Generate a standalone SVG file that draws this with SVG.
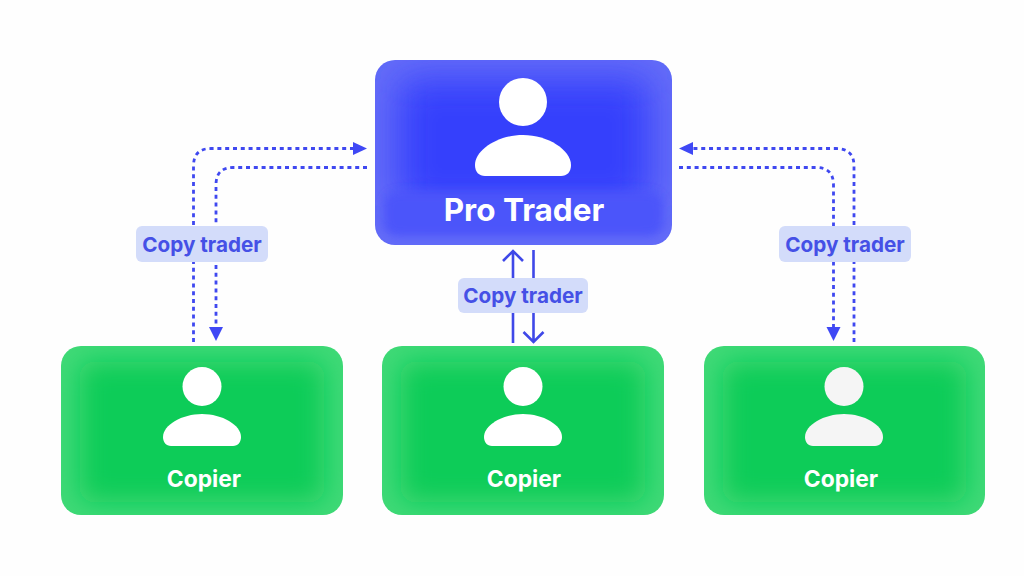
<svg xmlns="http://www.w3.org/2000/svg" width="1024" height="576" viewBox="0 0 1024 576">
<style>
.dash{fill:none;stroke:#3f48f0;stroke-width:2.8;stroke-dasharray:4 3.8}
.solid{fill:none;stroke:#3f48e8;stroke-width:2.6}
.head{fill:#3f48f5}
.pill{fill:#d3dcfa}
.lbl{font-family:Inter,"Liberation Sans",sans-serif;font-weight:700;font-size:20.700px;fill:#4550e6;text-anchor:middle}
.name{font-family:Inter,"Liberation Sans",sans-serif;font-weight:700;fill:#fff;text-anchor:middle}
.g-base{fill:#3fd976}
.g-core{fill:#10cc58;filter:url(#b)}
.person{fill:#fff}
</style>
<defs>
<filter id="b" x="-20%" y="-20%" width="140%" height="140%"><feGaussianBlur stdDeviation="13"/></filter>
<filter id="b2" x="-20%" y="-20%" width="140%" height="140%"><feGaussianBlur stdDeviation="18"/></filter>
<filter id="b3" x="-20%" y="-40%" width="140%" height="180%"><feGaussianBlur stdDeviation="5"/></filter>
<clipPath id="c0"><rect x="375" y="60" width="297" height="185" rx="20"/></clipPath>
<clipPath id="c1"><rect x="61" y="346" width="282" height="169" rx="20"/></clipPath>
<clipPath id="c2"><rect x="382" y="346" width="282" height="169" rx="20"/></clipPath>
<clipPath id="c3"><rect x="704" y="346" width="281" height="169" rx="20"/></clipPath>
<path id="body-s" d="M163 437C163 425 182 414 202 414C222 414 241 425 241 437C241 442 238 446 233 446L171 446C166 446 163 442 163 437Z"/>
</defs>
<rect width="1024" height="576" fill="#fefefe"/>
<g id="connectors">
<path class="dash" d="M193.500 342V166Q193.500 148.500 211 148.500H354"/>
<path class="head" d="M353 142L367 148.500L353 155Z"/>
<path class="dash" d="M367 167.500H233Q216 167.500 216 185V327"/>
<path class="head" d="M209 327L216 341L223 327Z"/>
<path class="dash" d="M854 342V166Q854 148.500 836 148.500H692"/>
<path class="head" d="M693 142L679 148.500L693 155Z"/>
<path class="dash" d="M679 167.500H816Q833.500 167.500 833.500 185V327"/>
<path class="head" d="M826.500 327L833.500 341L840.500 327Z"/>
<path class="solid" d="M513 343V252M503 261L513 251L523 261"/>
<path class="solid" d="M533.500 250V342M523.500 332L533.500 342L543.500 332"/>
</g>
<g id="pro-trader">
<rect x="375" y="60" width="297" height="185" rx="20" fill="#636bf8"/>
<g clip-path="url(#c0)">
<rect x="398" y="78" width="252" height="130" rx="16" fill="#3640fc" filter="url(#b2)"/>
<rect x="384" y="192" width="279" height="44" rx="14" fill="#4c55fa" filter="url(#b3)"/>
</g>
<circle class="person" cx="523" cy="102" r="24"/>
<path class="person" d="M475 165C475 150 498 135 523 135C548 135 571 150 571 165C571 172 567 176 561 176H485C479 176 475 172 475 165Z"/>
<text class="name" x="524" y="221" font-size="31.500">Pro Trader</text>
</g>
<g id="copier-1">
<rect class="g-base" x="61" y="346" width="282" height="169" rx="20"/>
<g clip-path="url(#c1)"><rect class="g-core" x="80" y="362" width="244" height="140" rx="14"/></g>
<circle class="person" cx="202" cy="386.500" r="19.500"/>
<use href="#body-s" class="person"/>
<text class="name" x="204" y="486.500" font-size="22.800">Copier</text>
</g>
<g id="copier-2">
<rect class="g-base" x="382" y="346" width="282" height="169" rx="20"/>
<g clip-path="url(#c2)"><rect class="g-core" x="401" y="362" width="244" height="140" rx="14"/></g>
<circle class="person" cx="523" cy="386.500" r="19.500"/>
<use href="#body-s" class="person" x="321"/>
<text class="name" x="524" y="486.500" font-size="22.800">Copier</text>
</g>
<g id="copier-3">
<rect class="g-base" x="704" y="346" width="281" height="169" rx="20"/>
<g clip-path="url(#c3)"><rect class="g-core" x="723" y="362" width="243" height="140" rx="14"/></g>
<circle cx="844" cy="386.500" r="19.500" fill="#f5f5f5"/>
<use href="#body-s" fill="#f5f5f5" x="642"/>
<text class="name" x="841" y="486.500" font-size="22.800">Copier</text>
</g>
<g id="label-left"><rect class="pill" x="136" y="226" width="132" height="36" rx="6"/><text class="lbl" x="202" y="251.500">Copy trader</text></g>
<g id="label-mid"><rect class="pill" x="458" y="278" width="130" height="35" rx="6"/><text class="lbl" x="523" y="302.500">Copy trader</text></g>
<g id="label-right"><rect class="pill" x="779" y="226" width="132" height="36" rx="6"/><text class="lbl" x="845" y="251.500">Copy trader</text></g>
</svg>
